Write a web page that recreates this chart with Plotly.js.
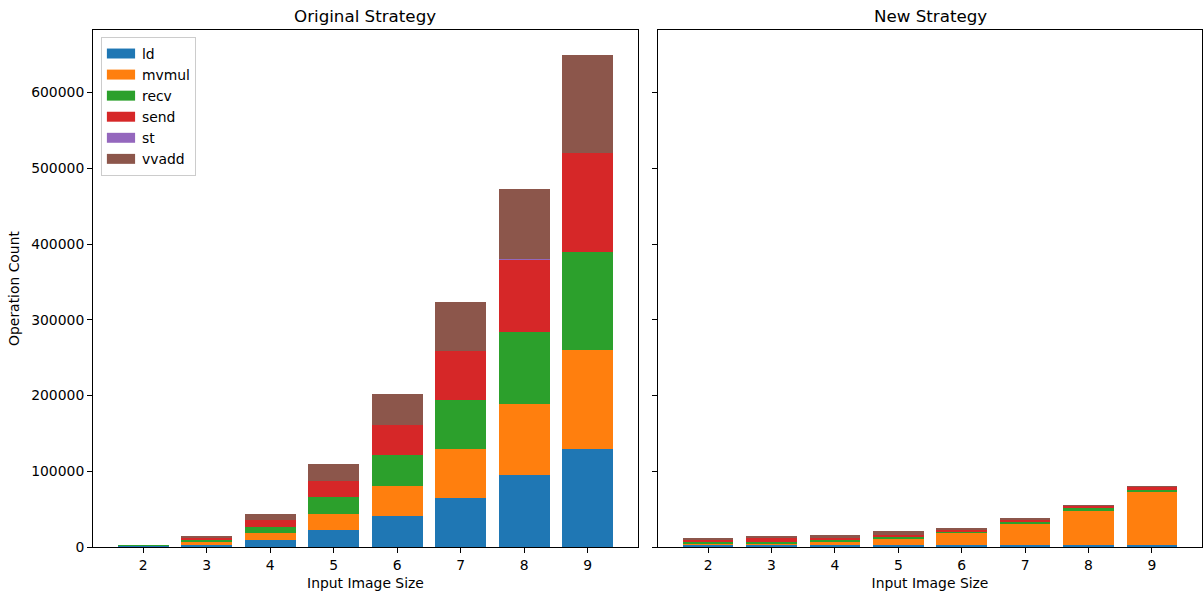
<!DOCTYPE html>
<html>
<head>
<meta charset="utf-8">
<script src="https://cdn.plot.ly/plotly-3.0.1.min.js"></script>
<style>
  html, body { margin: 0; padding: 0; background: #ffffff; }
  #chart { width: 1203px; height: 591px; }
</style>
</head>
<body>
<div id="chart"></div>
<script>
// Input image sizes on the x axis
const sizes = [2, 3, 4, 5, 6, 7, 8, 9];
const opNames = ['ld', 'mvmul', 'recv', 'send', 'st', 'vvadd'];
const opColors = ['#1f77b4', '#ff7f0e', '#2ca02c', '#d62728', '#9467bd', '#8c564b'];

// Operation counts, original strategy
const origLd    = [1200, 3000, 9200, 21900, 40500, 64700, 94600, 130000];
const origMvmul = [300,  3000, 9200, 21900, 40400, 64700, 94600, 130000];
const origRecv  = [1100, 3000, 8400, 21900, 40400, 64700, 94600, 130000];
const origSend  = [200,  3000, 9200, 21900, 40400, 64700, 94600, 130000];
const origSt    = [0,    0,    0,    0,     0,     0,     1600,  0];
const origVvadd = [200,  3000, 7900, 21900, 40400, 64700, 93100, 130000];

// Operation counts, new strategy
const newLd    = [2400, 2400, 2400, 2400, 2400,  2400,  2400,  2400];
const newMvmul = [2200, 2200, 4000, 8500, 15500, 27900, 45500, 70500];
const newRecv  = [2200, 2000, 3000, 2200, 2000,  3000,  3000,  3000];
const newSend  = [3000, 5000, 3000, 3000, 3000,  2600,  3000,  3000];
const newSt    = [0,    0,    0,    0,    0,     0,     0,     0];
const newVvadd = [2600, 2600, 3000, 4500, 2500,  2200,  1800,  2000];

const origSeries = [origLd, origMvmul, origRecv, origSend, origSt, origVvadd];
const newSeries  = [newLd, newMvmul, newRecv, newSend, newSt, newVvadd];

const traces = [];
opNames.forEach((name, i) => {
  traces.push({
    type: 'bar', name: name, x: sizes, y: origSeries[i], width: 0.8,
    marker: { color: opColors[i], line: { width: 0 } },
    xaxis: 'x', yaxis: 'y', showlegend: true, hoverinfo: 'x+y+name'
  });
});
opNames.forEach((name, i) => {
  traces.push({
    type: 'bar', name: name, x: sizes, y: newSeries[i], width: 0.8,
    marker: { color: opColors[i], line: { width: 0 } },
    xaxis: 'x2', yaxis: 'y2', showlegend: false, hoverinfo: 'x+y+name'
  });
});

const FONT = 'DejaVu Sans, sans-serif';
const tickFont = { family: FONT, size: 13.9, color: '#000000' };

const xCommon = {
  range: [1.21, 9.79], tickvals: sizes, ticktext: sizes.map(String),
  ticks: 'outside', ticklen: 5, tickwidth: 1, tickcolor: '#000000',
  showline: true, linecolor: '#000000', linewidth: 1, mirror: true,
  showgrid: false, zeroline: false, tickfont: tickFont,
  title: { text: 'Input Image Size', font: tickFont, standoff: 6 }
};
const yTicks = [0, 100000, 200000, 300000, 400000, 500000, 600000];
const yCommon = {
  range: [0, 682500], tickvals: yTicks, tickformat: 'd',
  ticks: 'outside', ticklen: 5, tickwidth: 1, tickcolor: '#000000',
  showline: true, linecolor: '#000000', linewidth: 1, mirror: true,
  showgrid: false, zeroline: false, tickfont: tickFont
};

const layout = {
  width: 1203, height: 591,
  margin: { l: 93, r: 1, t: 30, b: 44, pad: 0 },
  paper_bgcolor: '#ffffff', plot_bgcolor: '#ffffff',
  barmode: 'stack', bargap: 0.2,
  font: { family: FONT, size: 13.9, color: '#000000' },
  xaxis: Object.assign({}, xCommon, { domain: [0, 0.4914], anchor: 'y' }),
  xaxis2: Object.assign({}, xCommon, { domain: [0.5095, 1], anchor: 'y2' }),
  yaxis: Object.assign({}, yCommon, {
    anchor: 'x',
    title: { text: 'Operation Count', font: tickFont, standoff: 8 }
  }),
  yaxis2: Object.assign({}, yCommon, { anchor: 'x2', matches: 'y', showticklabels: false }),
  showlegend: true,
  legend: {
    x: 0.0072, y: 0.9865, xanchor: 'left', yanchor: 'top',
    traceorder: 'normal',
    bgcolor: 'rgba(255,255,255,0.8)', bordercolor: '#cccccc', borderwidth: 1,
    font: { family: FONT, size: 13.9, color: '#000000' }
  },
  annotations: [
    { text: 'Original Strategy', xref: 'paper', yref: 'paper', x: 0.2457, y: 1.027,
      xanchor: 'center', yanchor: 'middle', showarrow: false,
      font: { family: FONT, size: 16.7, color: '#000000' } },
    { text: 'New Strategy', xref: 'paper', yref: 'paper', x: 0.7548, y: 1.027,
      xanchor: 'center', yanchor: 'middle', showarrow: false,
      font: { family: FONT, size: 16.7, color: '#000000' } }
  ]
};

Plotly.newPlot('chart', traces, layout, { displayModeBar: false, staticPlot: true }).then(() => {
  // widen the legend swatches into flat rectangles
  document.querySelectorAll('.legend .legendpoints path').forEach(p => {
    p.setAttribute('transform', 'translate(19,0) scale(2.35,0.83)');
  });
});
</script>
</body>
</html>
